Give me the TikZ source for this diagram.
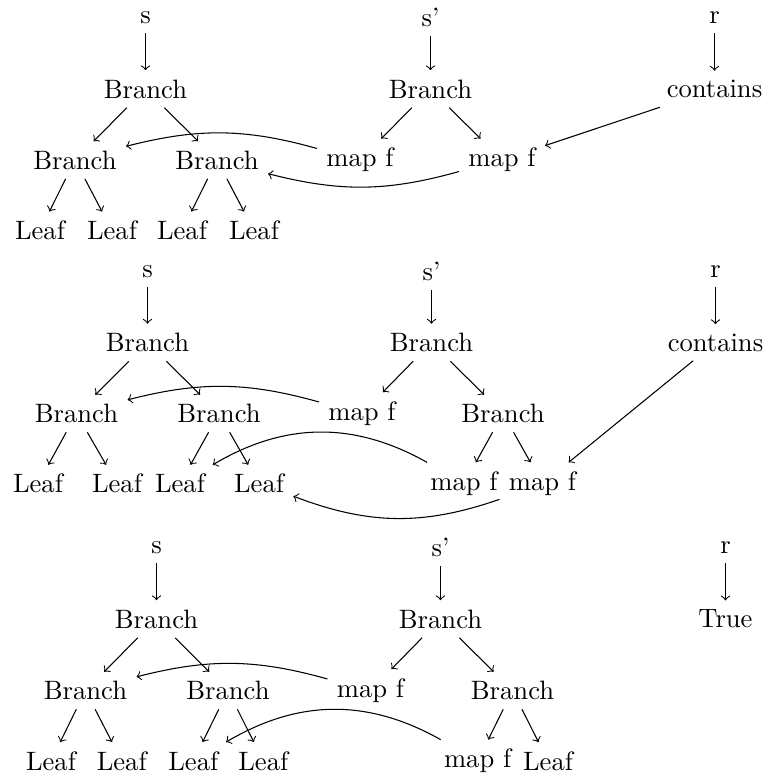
\documentclass[tikz,border=0pt]{standalone}
\begin{document}
\begin{tikzpicture}[x=0.3759pt,y=-0.3759pt,link/.style={->}]
\useasboundingbox (0,0) rectangle (767,776);

% ---- first stage ----
\node (s1)   at (145.5,17.5) {s};
\node (s1b)  at (145.5,89)   {Branch};
\node (s1bl) at (75,160)     {Branch};
\node (s1br) at (217,160)    {Branch};
\node (s1l1) at (40,230.5)   {Leaf};
\node (s1l2) at (112,230.5)  {Leaf};
\node (s1l3) at (182,230.5)  {Leaf};
\node (s1l4) at (254,230.5)  {Leaf};
\node (t1)   at (430.5,17.5) {s'};
\node (t1b)  at (430.5,89)   {Branch};
\node (t1m1) at (360,160)    {map f};
\node (t1m2) at (502,160)    {map f};
\node (r1)   at (714.5,17.5) {r};
\node (r1c)  at (714.5,89)   {contains};

\draw[link] (s1) -- (s1b);
\draw[link] (s1b) -- (s1bl);
\draw[link] (s1b) -- (s1br);
\draw[link] (s1bl) -- (s1l1);
\draw[link] (s1bl) -- (s1l2);
\draw[link] (s1br) -- (s1l3);
\draw[link] (s1br) -- (s1l4);
\draw[link] (t1) -- (t1b);
\draw[link] (t1b) -- (t1m1);
\draw[link] (t1b) -- (t1m2);
\draw[link] (r1) -- (r1c);
\draw[link] (r1c) -- (t1m2);
\draw[link] (t1m1) to[bend right=15] (s1bl);
\draw[link] (t1m2) to[bend left=15] (s1br);

% ---- second stage ----
\node (s2)   at (147.5,271.5) {s};
\node (s2b)  at (147.5,342.5) {Branch};
\node (s2bl) at (76.5,413.5)  {Branch};
\node (s2br) at (219,413.5)   {Branch};
\node (s2l1) at (38,483.7)    {Leaf};
\node (s2l2) at (117,483.7)   {Leaf};
\node (s2l3) at (180,483.7)   {Leaf};
\node (s2l4) at (259,483.7)   {Leaf};
\node (t2)   at (431.5,271.5) {s'};
\node (t2b)  at (431.5,342.5) {Branch};
\node (t2m1) at (362,413.5)   {map f};
\node (t2br) at (503,413.5)   {Branch};
\node (t2m2) at (464,483.7)   {map f};
\node (t2m3) at (542.5,483.7) {map f};
\node (r2)   at (715.5,271.5) {r};
\node (r2c)  at (715.5,342.5) {contains};

\draw[link] (s2) -- (s2b);
\draw[link] (s2b) -- (s2bl);
\draw[link] (s2b) -- (s2br);
\draw[link] (s2bl) -- (s2l1);
\draw[link] (s2bl) -- (s2l2);
\draw[link] (s2br) -- (s2l3);
\draw[link] (s2br) -- (s2l4);
\draw[link] (t2) -- (t2b);
\draw[link] (t2b) -- (t2m1);
\draw[link] (t2b) -- (t2br);
\draw[link] (t2br) -- (t2m2);
\draw[link] (t2br) -- (t2m3);
\draw[link] (r2) -- (r2c);
\draw[link] (r2c) -- (t2m3);
\draw[link] (t2m1) to[bend right=15] (s2bl);
\draw[link] (t2m2) to[bend right=30] (s2l3);
\draw[link] (t2m3) to[bend left=20] (s2l4);

% ---- third stage ----
\node (s3)   at (156.5,547.5) {s};
\node (s3b)  at (156.5,619)   {Branch};
\node (s3bl) at (85.5,690.5)  {Branch};
\node (s3br) at (228,690.5)   {Branch};
\node (s3l1) at (51,761)      {Leaf};
\node (s3l2) at (121.7,761)   {Leaf};
\node (s3l3) at (193.3,761)   {Leaf};
\node (s3l4) at (263.3,761)   {Leaf};
\node (t3)   at (440.5,547.5) {s'};
\node (t3b)  at (440.5,619)   {Branch};
\node (t3m1) at (370.5,690.5) {map f};
\node (t3br) at (512.5,690.5) {Branch};
\node (t3m2) at (477.7,761)   {map f};
\node (t3l)  at (548,761)     {Leaf};
\node (r3)   at (725.5,547.5) {r};
\node (r3t)  at (725.5,619)   {True};

\draw[link] (s3) -- (s3b);
\draw[link] (s3b) -- (s3bl);
\draw[link] (s3b) -- (s3br);
\draw[link] (s3bl) -- (s3l1);
\draw[link] (s3bl) -- (s3l2);
\draw[link] (s3br) -- (s3l3);
\draw[link] (s3br) -- (s3l4);
\draw[link] (t3) -- (t3b);
\draw[link] (t3b) -- (t3m1);
\draw[link] (t3b) -- (t3br);
\draw[link] (t3br) -- (t3m2);
\draw[link] (t3br) -- (t3l);
\draw[link] (r3) -- (r3t);
\draw[link] (t3m1) to[bend right=15] (s3bl);
\draw[link] (t3m2) to[bend right=30] (s3l3);
\end{tikzpicture}
\end{document}
